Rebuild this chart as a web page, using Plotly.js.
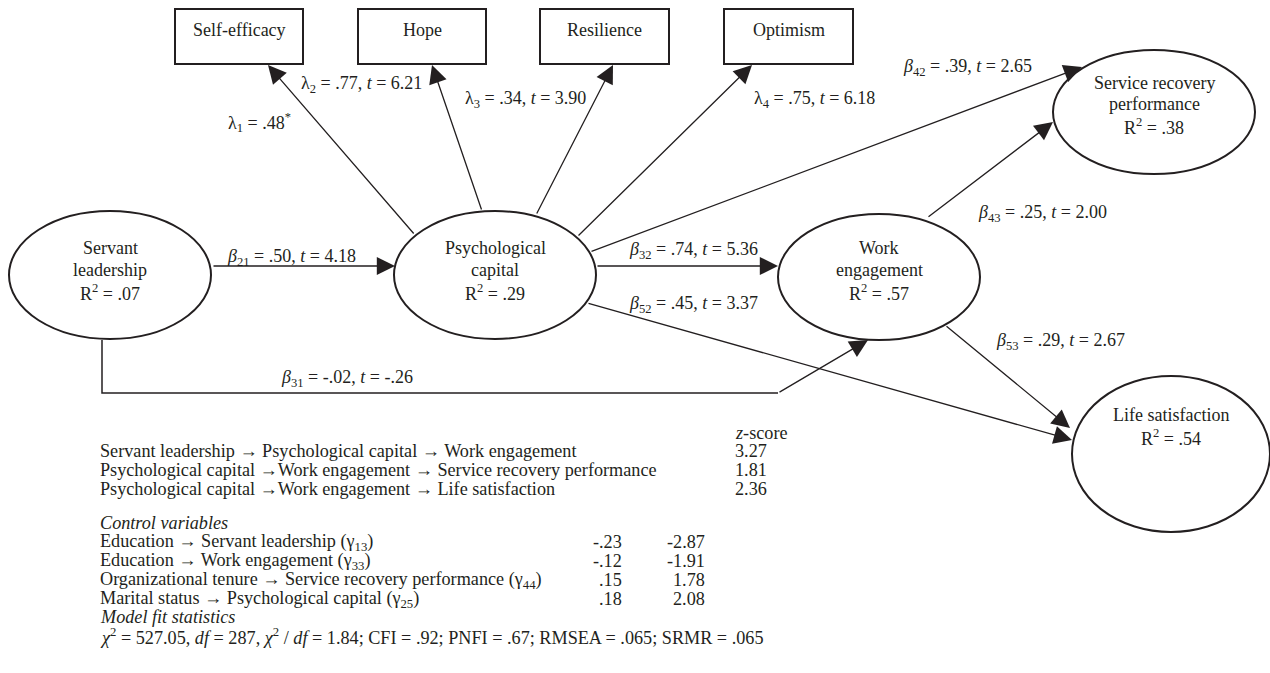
<!DOCTYPE html>
<html>
<head>
<meta charset="utf-8">
<script src="https://cdn.plot.ly/plotly-3.0.1.min.js"></script>
<style>html,body{margin:0;padding:0;background:#fff;}#chart{width:1270px;height:673px;}</style>
</head>
<body>
<div id="chart"></div>
<script>
// ---- data ----
var indicatorNames = ['Self-efficacy', 'Hope', 'Resilience', 'Optimism'];
var latentNames = [
  ['Servant', 'leadership', 'R<sup>2</sup> = .07'],
  ['Psychological', 'capital', 'R<sup>2</sup> = .29'],
  ['Work', 'engagement', 'R<sup>2</sup> = .57'],
  ['Service recovery', 'performance', 'R<sup>2</sup> = .38'],
  ['Life satisfaction', 'R<sup>2</sup> = .54']
];
var loadingLabels = [
  'λ<sub>1</sub> = .48<sup>*</sup>',
  'λ<sub>2</sub> = .77, <i>t</i> = 6.21',
  'λ<sub>3</sub> = .34, <i>t</i> = 3.90',
  'λ<sub>4</sub> = .75, <i>t</i> = 6.18'
];
var pathNames = ['β21', 'β32', 'β42', 'β52', 'β43', 'β53', 'β31'];
var pathCoefs = ['.50', '.74', '.39', '.45', '.25', '.29', '-.02'];
var pathT = ['4.18', '5.36', '2.65', '3.37', '2.00', '2.67', '-.26'];
var indirectPaths = [
  'Servant leadership → Psychological capital → Work engagement',
  'Psychological capital →Work engagement → Service recovery performance',
  'Psychological capital →Work engagement → Life satisfaction'
];
var zScores = ['3.27', '1.81', '2.36'];
var controlPaths = [
  'Education → Servant leadership (γ<sub>13</sub>)',
  'Education → Work engagement (γ<sub>33</sub>)',
  'Organizational tenure → Service recovery performance (γ<sub>44</sub>)',
  'Marital status → Psychological capital (γ<sub>25</sub>)'
];
var controlCoefs = ['-.23', '-.12', '.15', '.18'];
var controlT = ['-2.87', '-1.91', '1.78', '2.08'];
var fitStats = '<i>χ</i><sup>2</sup> = 527.05, <i>df</i> = 287, <i>χ</i><sup>2</sup> / <i>df</i> = 1.84; CFI = .92; PNFI = .67; RMSEA = .065; SRMR = .065';

// ---- layout geometry ----
var FONT = 'Liberation Serif, Times New Roman, serif';
var INK = '#231f20';
var boxes = [[175, 303], [358, 486], [540, 669], [724, 853]];
var boxY = [9, 64];
var ellipses = [
  {cx: 110, cy: 275, rx: 101, ry: 64, ly: [248, 270, 292]},
  {cx: 495, cy: 275, rx: 101, ry: 64, ly: [248, 270, 292]},
  {cx: 879, cy: 277, rx: 101, ry: 63, ly: [248, 270, 292]},
  {cx: 1154, cy: 112, rx: 101, ry: 62, ly: [83, 104, 126]},
  {cx: 1171, cy: 454, rx: 99, ry: 78, ly: [415, 437]}
];
var loadingArrows = [[415, 235, 268, 65], [482, 211, 432, 65], [536, 215, 613, 65], [577, 237, 752, 65]];
var loadingPos = [[259, 122], [361, 84], [525, 99], [814, 99]];
var pathArrows = [[212, 266, 395, 266], [596, 266, 778, 266], [590, 252, 1082, 67], [587, 303, 1072, 440],
                  [927, 218, 1053, 122], [945, 325, 1070, 428], [778, 393, 868, 340]];
var pathPos = [[291, 257], [693, 250], [967, 67], [693, 304], [1042, 213], [1060, 341], [347, 378]];

var shapes = [], ann = [];
var BS = 18.2;
function txt(x, y, t, opt) {
  opt = opt || {};
  ann.push({x: x, y: y, xref: 'x', yref: 'y', text: t, showarrow: false,
    xanchor: opt.xa || 'center', yanchor: 'middle',
    font: {family: FONT, size: opt.size || 18, color: INK}});
}
function arrow(x0, y0, x1, y1) {
  ann.push({x: x1, y: y1, ax: x0, ay: y0, xref: 'x', yref: 'y', axref: 'x', ayref: 'y',
    text: '', showarrow: true, arrowhead: 2, arrowsize: 2.8, arrowwidth: 1.3,
    arrowcolor: INK, standoff: 0, startstandoff: 0});
}

boxes.forEach(function (b, i) {
  shapes.push({type: 'rect', xref: 'x', yref: 'y', x0: b[0], x1: b[1], y0: boxY[0], y1: boxY[1],
    line: {color: INK, width: 2}});
  txt((b[0] + b[1]) / 2, 30, indicatorNames[i]);
});
ellipses.forEach(function (e, i) {
  shapes.push({type: 'circle', xref: 'x', yref: 'y', x0: e.cx - e.rx, x1: e.cx + e.rx,
    y0: e.cy - e.ry, y1: e.cy + e.ry, line: {color: INK, width: 2}});
  latentNames[i].forEach(function (l, j) { txt(e.cx, e.ly[j], l); });
});
loadingArrows.forEach(function (a, i) {
  arrow(a[0], a[1], a[2], a[3]);
  txt(loadingPos[i][0], loadingPos[i][1], loadingLabels[i]);
});
// elbow of beta31 path
shapes.push({type: 'path', xref: 'x', yref: 'y', path: 'M102,340 L102,393 L778,393',
  line: {color: INK, width: 1.5}});
pathArrows.forEach(function (a, i) {
  arrow(a[0], a[1], a[2], a[3]);
  var n = pathNames[i];
  txt(pathPos[i][0], pathPos[i][1], '<i>β</i><sub>' + n.slice(1) + '</sub> = ' + pathCoefs[i] + ', <i>t</i> = ' + pathT[i]);
});

// bottom text
var LX = 98;
txt(733, 433, '<i>z</i>-score', {xa: 'left', size: BS});
indirectPaths.forEach(function (p, i) {
  var y = 451 + i * 19;
  txt(LX, y, p, {xa: 'left', size: BS});
  txt(733, y, zScores[i], {xa: 'left', size: BS});
});
txt(LX, 523, '<i>Control variables</i>', {xa: 'left', size: BS});
controlPaths.forEach(function (p, i) {
  var y = 542 + i * 19;
  txt(LX, y, p, {xa: 'left', size: BS});
  txt(624, y, controlCoefs[i], {xa: 'right', size: BS});
  txt(707, y, controlT[i], {xa: 'right', size: BS});
});
txt(LX, 617, '<i>Model fit statistics</i>', {xa: 'left', size: BS});
txt(LX, 636, fitStats, {xa: 'left', size: BS});

var layout = {
  width: 1270, height: 673, margin: {l: 0, r: 0, t: 0, b: 0},
  paper_bgcolor: '#fff', plot_bgcolor: '#fff', showlegend: false,
  xaxis: {range: [0, 1270], visible: false, fixedrange: true},
  yaxis: {range: [673, 0], visible: false, fixedrange: true},
  shapes: shapes, annotations: ann
};
Plotly.newPlot('chart', [{x: [], y: [], type: 'scatter', mode: 'markers'}], layout,
  {displayModeBar: false, staticPlot: true});
</script>
</body>
</html>
